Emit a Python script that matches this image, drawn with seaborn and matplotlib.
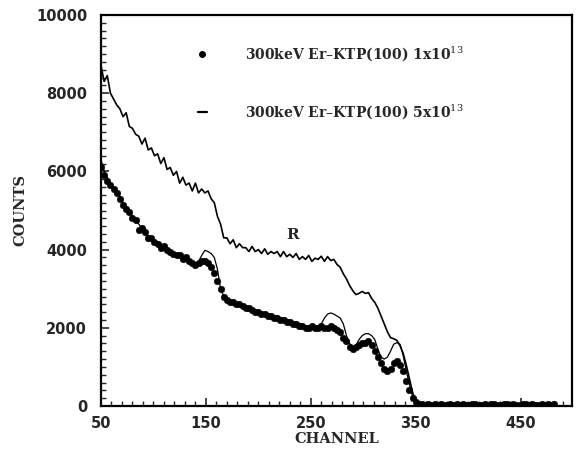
import numpy as np
import pandas as pd
import matplotlib
matplotlib.use("Agg")
import matplotlib.pyplot as plt
from matplotlib.lines import Line2D
from matplotlib.ticker import MultipleLocator
import seaborn as sns

# ---- data ----
channels = list(range(50, 483, 3))

tail_r = [50, 40, 60, 30, 50, 70, 40, 30, 60, 50, 40, 30, 50, 60, 40, 50, 30, 40, 60, 50, 30, 40,
          50, 60, 40, 30, 50, 40, 60, 50, 30, 40, 50, 40, 60, 30, 50, 40, 50, 30, 40, 50, 40]
random_R = [8700, 8300, 8450, 8000, 7850, 7700, 7600, 7400, 7500, 7150, 7100, 6950, 6900, 6700,
            6850, 6550, 6600, 6400, 6450, 6200, 6350, 6050, 6100, 5900, 6000, 5700, 5850, 5650,
            5700, 5500, 5700, 5450, 5550, 5450, 5500, 5300, 5200, 4850, 4650, 4300, 4300, 4150,
            4250, 4050, 4150, 4050, 4050, 3950, 4080, 3950, 4000, 3900, 4020, 3880, 3950, 3900,
            3950, 3820, 3950, 3820, 3880, 3800, 3900, 3750, 3820, 3750, 3850, 3700, 3780, 3750,
            3830, 3700, 3820, 3720, 3750, 3620, 3550, 3380, 3250, 3080, 2950, 2850, 2880, 2930,
            2880, 2900, 2750, 2650, 2500, 2300, 2100, 1900, 1750, 1720, 1680, 1550, 1350, 1050,
            700, 350, 120, 60] + tail_r

tail_a = [40, 30, 50, 20, 40, 30, 50, 30, 20, 40, 30, 50, 30, 40, 20, 30, 50, 40, 30, 20, 40, 30,
          50, 40, 30, 20, 40, 50, 30, 40, 20, 30, 40, 50, 30, 40, 20, 30, 40, 30, 50, 30, 40]
aligned_1e13 = [6100, 5900, 5750, 5650, 5550, 5450, 5300, 5150, 5050, 4950, 4800, 4750, 4500, 4550,
                4450, 4300, 4300, 4200, 4150, 4050, 4100, 4000, 3950, 3900, 3850, 3850, 3750, 3800,
                3700, 3650, 3600, 3650, 3720, 3700, 3650, 3550, 3400, 3200, 3000, 2800, 2700, 2650,
                2650, 2600, 2600, 2550, 2500, 2500, 2450, 2400, 2400, 2350, 2350, 2300, 2300, 2250,
                2250, 2200, 2200, 2150, 2150, 2100, 2100, 2050, 2050, 2000, 2000, 2050, 2000, 2000,
                2050, 2000, 2000, 2050, 2000, 1950, 1900, 1750, 1650, 1500, 1450, 1500, 1550, 1600,
                1600, 1650, 1550, 1400, 1250, 1100, 950, 900, 950, 1100, 1150, 1050, 900, 650,
                400, 200, 100, 60] + tail_a

tail_b = [30, 40, 30, 20, 30, 40, 30, 30, 20, 30, 40, 30, 20, 30, 30, 40, 30, 20, 30, 30, 40, 30,
          20, 30, 40, 30, 30, 20, 30, 40, 30, 20, 30, 30, 40, 30, 20, 30, 30, 40, 30, 20, 30]
aligned_5e13 = [6300, 6000, 5850, 5700, 5600, 5500, 5350, 5200, 5100, 5000, 4850, 4750, 4650, 4550,
                4450, 4350, 4300, 4200, 4150, 4100, 4050, 4000, 3950, 3900, 3850, 3800, 3750, 3750,
                3700, 3650, 3650, 3700, 3850, 3980, 3950, 3900, 3800, 3500, 3000, 2800, 2700, 2700,
                2650, 2650, 2600, 2600, 2550, 2500, 2500, 2450, 2450, 2400, 2400, 2350, 2350, 2300,
                2300, 2250, 2250, 2200, 2200, 2150, 2150, 2100, 2100, 2050, 2050, 2050, 2050, 2050,
                2100, 2250, 2350, 2380, 2350, 2300, 2250, 2100, 1800, 1600, 1500, 1550, 1700, 1800,
                1850, 1850, 1800, 1700, 1450, 1250, 1200, 1250, 1400, 1580, 1620, 1580, 1300, 900,
                550, 250, 100, 50] + tail_b

x_ticks = [50, 150, 250, 350, 450]
y_ticks = [0, 2000, 4000, 6000, 8000, 10000]
legend_labels = ["300keV Er\u2013KTP(100) 1x10$^{13}$", "300keV Er\u2013KTP(100) 5x10$^{13}$"]

df = pd.DataFrame({"channel": channels, "R": random_R, "a1": aligned_1e13, "a5": aligned_5e13})

# ---- figure ----
sns.set_style("ticks")
plt.rcParams["font.family"] = ["DejaVu Serif"]
plt.rcParams["mathtext.fontset"] = "dejavuserif"

fig = plt.figure(figsize=(5.8, 4.53), dpi=100)
ax = fig.add_axes([101 / 580, 47 / 453, 471 / 580, 391 / 453])

sns.lineplot(data=df, x="channel", y="R", ax=ax, color="black", lw=1.2)
sns.lineplot(data=df, x="channel", y="a5", ax=ax, color="black", lw=0.9)
sns.scatterplot(data=df, x="channel", y="a1", ax=ax, color="black", s=22, marker="o",
                edgecolor="black", linewidth=0.4, zorder=3)

ax.set_xlim(50, 499)
ax.set_ylim(0, 10000)
ax.set_xticks(x_ticks)
ax.set_yticks(y_ticks)
ax.xaxis.set_minor_locator(MultipleLocator(10))
ax.yaxis.set_minor_locator(MultipleLocator(200))
ax.tick_params(axis="both", which="major", direction="in", length=6, width=1.2,
               top=False, right=False)
ax.tick_params(axis="both", which="minor", direction="in", length=3.5, width=1.0,
               top=False, right=False)
ax.tick_params(axis="x", which="major", pad=7)
ax.tick_params(axis="y", which="major", pad=10)
for lab in ax.get_xticklabels() + ax.get_yticklabels():
    lab.set_fontfamily("DejaVu Sans")
    lab.set_fontweight("bold")
    lab.set_fontsize(10.5)

for sp in ax.spines.values():
    sp.set_visible(True)
    sp.set_linewidth(1.6)
    sp.set_color("black")

ax.set_xlabel("CHANNEL", fontsize=10.5, fontweight="bold", labelpad=1)
ax.set_ylabel("COUNTS", fontsize=10.5, fontweight="bold", labelpad=6)

ax.text(233, 4370, "R", fontsize=11, ha="center", va="center", fontweight="bold")

handles = [Line2D([], [], color="black", marker="o", ms=4, ls="none"),
           Line2D([], [], color="black", lw=1.6)]
ax.legend(handles, legend_labels, loc="upper left", bbox_to_anchor=(0.205, 0.925),
          frameon=False, fontsize=10, handlelength=0.7, handletextpad=2.7,
          labelspacing=2.8, borderpad=0, borderaxespad=0,
          prop={"family": "DejaVu Serif", "size": 10, "weight": "bold"})

fig.savefig("out.png", dpi=100, facecolor="white")
